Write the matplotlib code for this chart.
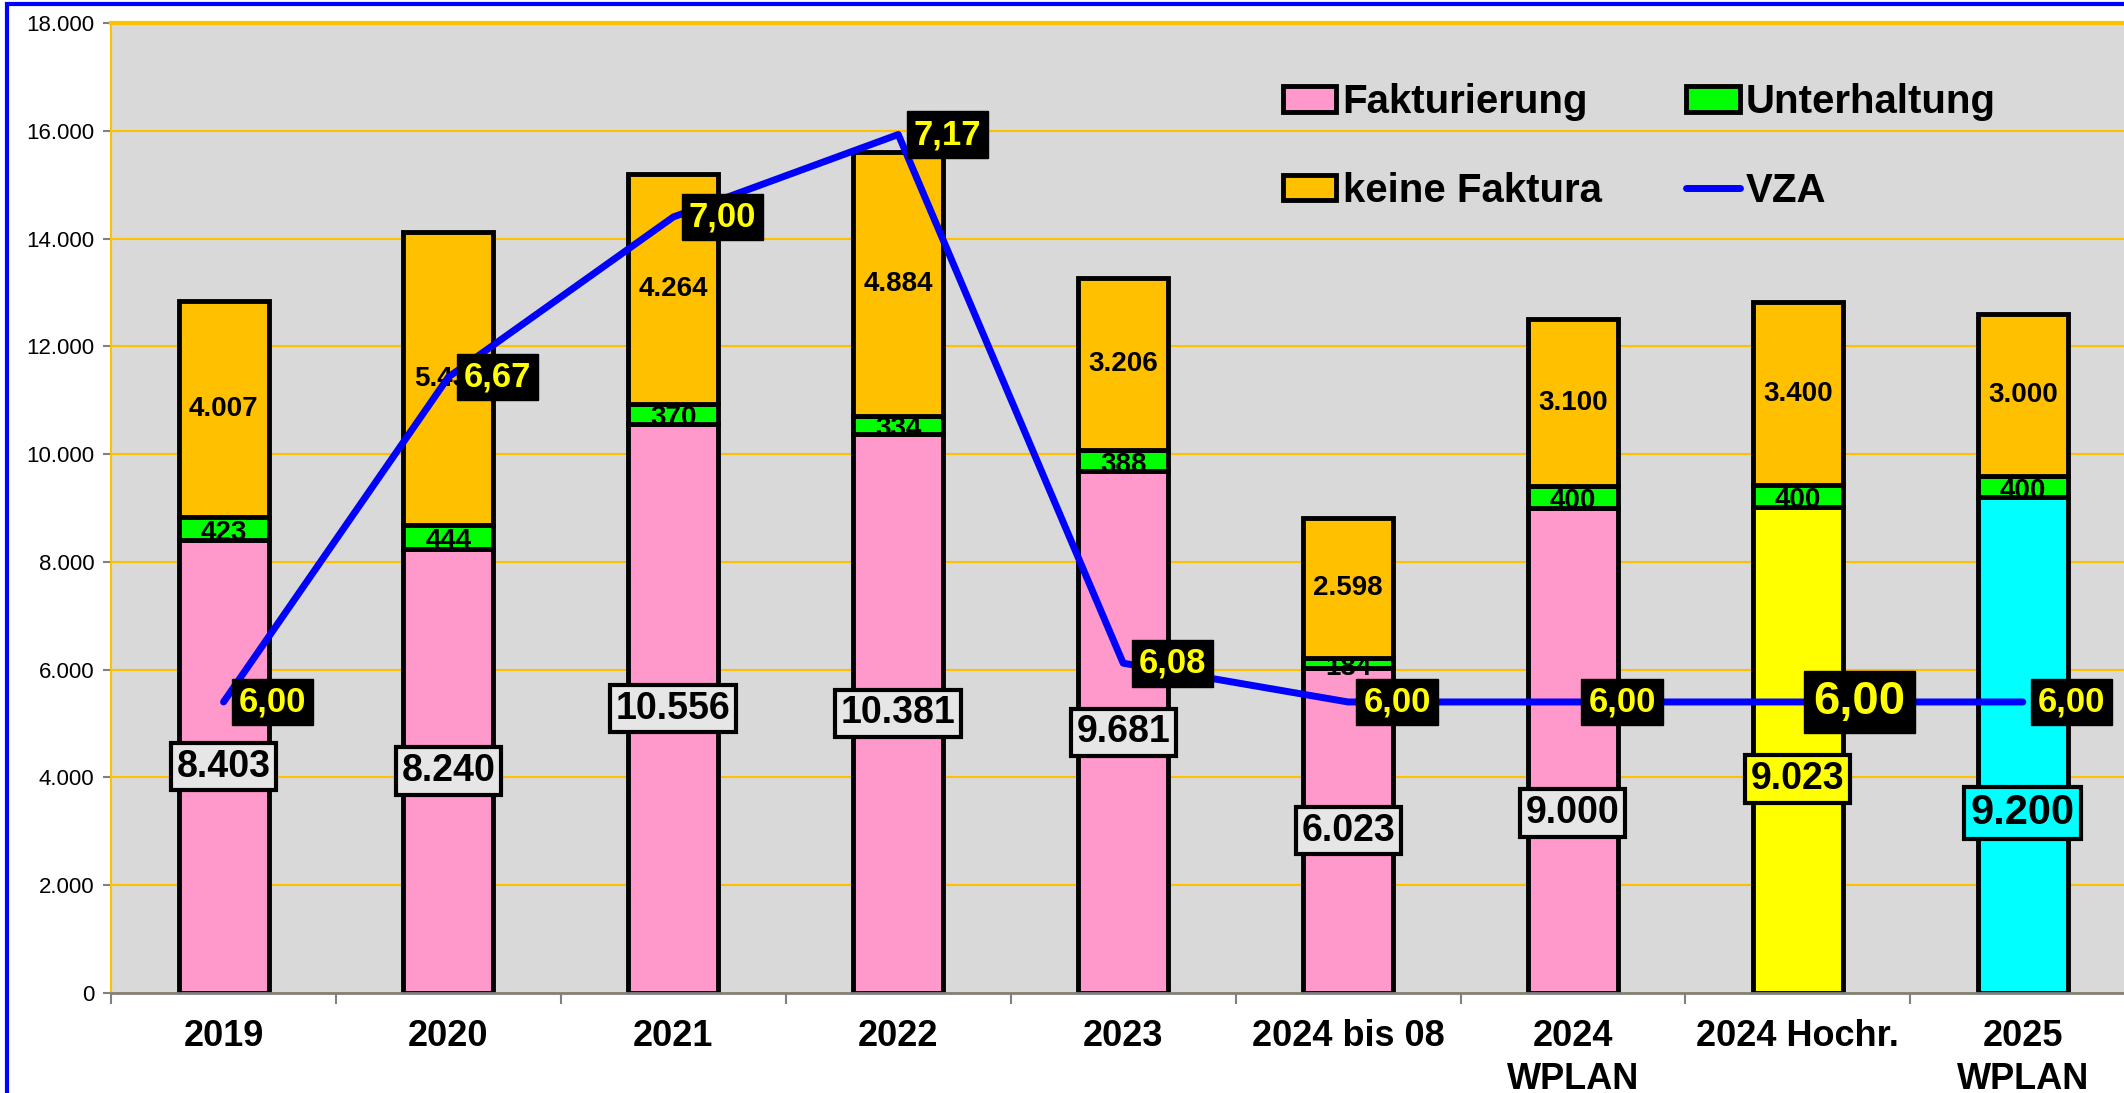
import matplotlib
matplotlib.use('Agg')
import matplotlib.pyplot as plt
from matplotlib.patches import Rectangle
from matplotlib.ticker import FuncFormatter

plt.rcParams['font.family'] = ['Liberation Sans', 'DejaVu Sans']

categories = ["2019", "2020", "2021", "2022", "2023", "2024 bis 08",
              "2024\nWPLAN", "2024 Hochr.", "2025\nWPLAN"]
fakturierung = [8403, 8240, 10556, 10381, 9681, 6023, 9000, 9023, 9200]
unterhaltung = [423, 444, 370, 334, 388, 184, 400, 400, 400]
keine_faktura = [4007, 5436, 4264, 4884, 3206, 2598, 3100, 3400, 3000]
vza = [6.00, 6.67, 7.00, 7.17, 6.08, 6.00, 6.00, 6.00, 6.00]


def de_int(v):
    return f"{int(round(v)):,}".replace(",", ".")


def de_dec(v):
    return f"{v:.2f}".replace(".", ",")


fak_colors = ['#FF99CC'] * 7 + ['#FFFF00', '#00FFFF']
box_colors = ['#E6E6E6'] * 7 + ['#FFFF00', '#00FFFF']
# label of the last bars sits lower than the middle of the segment
fak_label_shift = [0, 0, 0, 0, 0, 0, -1160, -540, -1260]

fig = plt.figure(figsize=(21.24, 10.93), dpi=100)
ax = fig.add_axes([0.0523, 0.0915, 0.953, 0.8875])
ax.set_facecolor('#D9D9D9')

x = list(range(len(categories)))
w = 0.4
lw = 3.5
b1 = ax.bar(x, fakturierung, w, color=fak_colors, edgecolor='black', linewidth=lw,
            label='Fakturierung', zorder=2)
b2 = ax.bar(x, unterhaltung, w, bottom=fakturierung, color='#00FF00', edgecolor='black',
            linewidth=lw, label='Unterhaltung', zorder=2)
bottom3 = [a + b for a, b in zip(fakturierung, unterhaltung)]
b3 = ax.bar(x, keine_faktura, w, bottom=bottom3, color='#FFC000', edgecolor='black',
            linewidth=lw, label='keine Faktura', zorder=4)

for i in x:
    # Unterhaltung labels (partly hidden by the bar above)
    ax.annotate(de_int(unterhaltung[i]), (i, fakturierung[i] + unterhaltung[i] / 2),
                xytext=(0, -3), textcoords='offset points',
                ha='center', va='center', fontsize=20, fontweight='bold', zorder=3)
    ax.text(i, bottom3[i] + keine_faktura[i] / 2, de_int(keine_faktura[i]),
            ha='center', va='center', fontsize=20, fontweight='bold', zorder=5)
    fs = 30 if i == 8 else 27
    ax.text(i, fakturierung[i] / 2 + fak_label_shift[i], de_int(fakturierung[i]),
            ha='center', va='center', fontsize=fs, fontweight='bold', zorder=6,
            bbox=dict(boxstyle='square,pad=0.15', fc=box_colors[i], ec='black', lw=3))

ax.set_xlim(-0.5, 8.5)
ax.set_ylim(0, 18000)
ax.set_yticks(range(0, 18001, 2000))
ax.yaxis.set_major_formatter(FuncFormatter(lambda v, p: de_int(v)))
ax.grid(axis='y', color='#FFC000', linewidth=1.5)
ax.set_axisbelow(True)

ax.set_xticks(x)
ax.set_xticklabels(categories, fontsize=26, fontweight='bold', linespacing=1.28)
ax.set_xticks([i - 0.5 for i in range(10)], minor=True)
ax.tick_params(axis='x', which='major', length=0, pad=19)
ax.tick_params(axis='x', which='minor', length=8, color='#808080', width=1.5)
ax.tick_params(axis='y', length=6, color='#808080', width=1.5, labelsize=16, pad=6)

ax.spines['top'].set_color('#FFC000')
ax.spines['top'].set_linewidth(3)
ax.spines['right'].set_visible(False)
ax.spines['left'].set_color('#FFC000')
ax.spines['left'].set_linewidth(1.5)
ax.spines['bottom'].set_color('#808080')
ax.spines['bottom'].set_linewidth(2)

ax2 = ax.twinx()
ax2.set_ylim(5.4, 7.4)
ax2.axis('off')
line, = ax2.plot(x, vza, color='#0000FF', linewidth=5, solid_capstyle='round', label='VZA')
for i, v in enumerate(vza):
    fs = 34 if i == 7 else 25
    ax2.annotate(de_dec(v), (i, v), xytext=(11, 0), textcoords='offset points',
                 ha='left', va='center', fontsize=fs, fontweight='bold', color='#FFFF00',
                 bbox=dict(boxstyle='square,pad=0.2', fc='black', ec='black'))

ax2.legend([b1, b3, b2, line], ['Fakturierung', 'keine Faktura', 'Unterhaltung', 'VZA'],
           ncol=2, loc='upper left', bbox_to_anchor=(0.561, 0.975), frameon=False,
           prop={'weight': 'bold', 'size': 29}, handlelength=1.33, handleheight=0.6,
           handletextpad=0.15, columnspacing=2.1, labelspacing=1.25)

fig.patches.append(Rectangle((0.0033, -0.05), 1.1, 1.0463, transform=fig.transFigure,
                             fill=False, edgecolor='#0000FF', linewidth=3))

fig.savefig('out.png', dpi=100)
